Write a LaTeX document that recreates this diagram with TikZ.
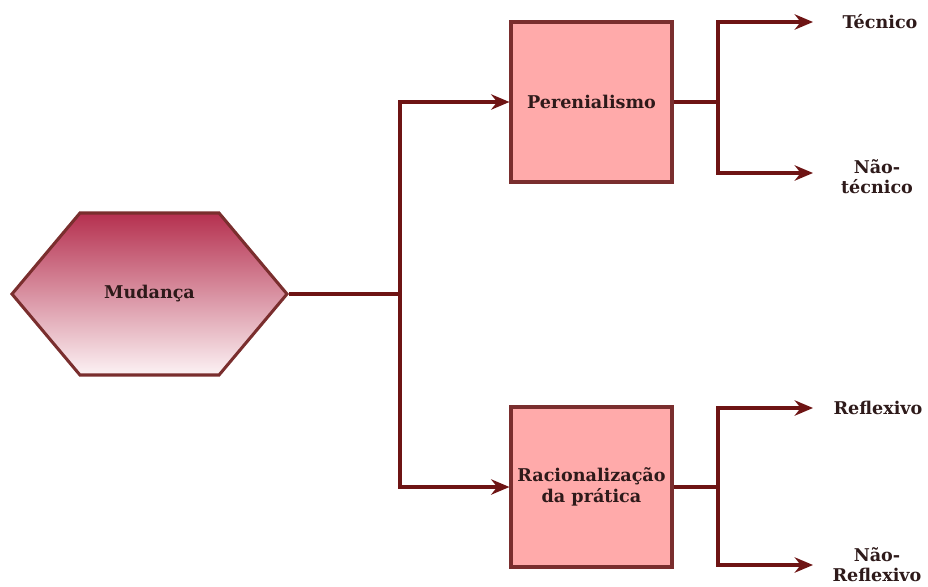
\documentclass[tikz,border=0pt]{standalone}
\usepackage{fontspec}
\setmainfont{DejaVu Serif}
\usetikzlibrary{shapes.symbols, arrows.meta, positioning, calc}
\definecolor{vinho}{HTML}{6E1414}
\definecolor{borda}{HTML}{7A2E2E}
\definecolor{rosa}{HTML}{FFAAAA}
\definecolor{topo}{HTML}{B5304F}
\definecolor{base}{HTML}{FCF2F4}
\definecolor{texto}{HTML}{2E1A1A}
\tikzset{hexa/.style={signal, signal to=east and west, signal pointer angle=100,
    draw=borda, line width=2.6pt, top color=topo, bottom color=base, text=texto,
    minimum width=8.25cm, minimum height=4.86cm, font=\bfseries\fontsize{15}{18}\selectfont},
  bloco/.style={draw=borda, fill=rosa, line width=2.6pt, minimum width=4.83cm, text=texto,
    minimum height=4.8cm, align=center, font=\bfseries\fontsize{15}{18}\selectfont},
  rotulo/.style={align=center, text=texto, inner sep=1pt, font=\bfseries\fontsize{15}{17}\selectfont},
  linha/.style={draw=vinho, line width=2.6pt},
  seta/.style={linha, -{Stealth[length=5.5mm, width=4.6mm, inset=1.8mm]}}}
\begin{document}
\begin{tikzpicture}[x=0.03cm, y=-0.03cm]
    \useasboundingbox (0,0) rectangle (928,586);
    \node[hexa] (mud) at (149.5,294) {Mudança};
    \node[bloco] (per) at (591.5,102) {Perenialismo};
    \node[bloco] (rac) at (591.5,487) {Racionalização\\da prática};
    \coordinate (ramo) at (400,294);
    \coordinate (ramoA) at (718,102);
    \coordinate (ramoB) at (718,487);

    % rotulos finais
    \node[rotulo] (tec) at (880,22) {Técnico};
    \node[rotulo] (ntec) at (877,177) {Não-\\técnico};
    \node[rotulo] (ref) at (878,408) {Reflexivo};
    \node[rotulo, anchor=south] (nref) at (877,583) {Não-\\Reflexivo};
    \coordinate (fimA) at (813,22);
    \coordinate (fimB) at (813,173);
    \coordinate (fimC) at (813,408);
    \coordinate (fimD) at (813,565);

    \draw[linha] (mud.east) -- (ramo);
    \draw[seta] (ramo) |- (per.west);
    \draw[seta] (ramo) |- (rac.west);
    \draw[linha] (per.east) -- (ramoA);
    \draw[seta] (ramoA) |- (fimA);
    \draw[seta] (ramoA) |- (fimB);
    \draw[linha] (rac.east) -- (ramoB);
    \draw[seta] (ramoB) |- (fimC);
    \draw[seta] (ramoB) |- (fimD);
\end{tikzpicture}
\end{document}
